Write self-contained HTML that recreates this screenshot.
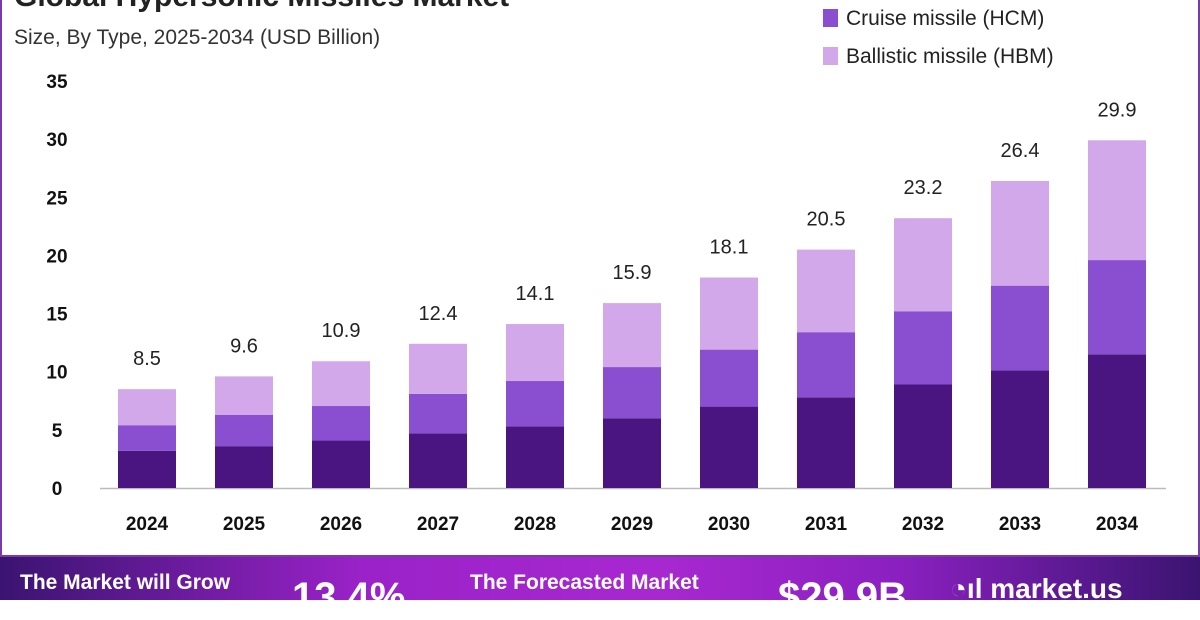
<!DOCTYPE html>
<html><head><meta charset="utf-8"><style>
body{margin:0;width:1200px;height:600px;overflow:hidden;background:#fff;font-family:"Liberation Sans",sans-serif;}
#frame{position:absolute;left:0;top:0;width:1196px;height:555px;border:2px solid #7a3aa8;border-top:none;background:#fff;}
#banner{position:absolute;left:0;top:557px;width:1200px;height:43px;background:linear-gradient(90deg,#3a1470 0%,#9a22c8 30%,#a828d0 55%,#8a20c0 75%,#3a1470 100%);color:#fff;font-weight:bold;}
</style></head><body>
<div id="frame"></div>
<svg id="chart" width="1200" height="557" style="position:absolute;left:0;top:0">
<text x="14" y="6" font-size="30" font-weight="bold" fill="#222">Global Hypersonic Missiles Market</text>
<text x="14" y="44" font-size="21" fill="#333">Size, By Type, 2025-2034 (USD Billion)</text>
<rect x="823" y="9" width="15" height="18" fill="#8a4fd0"/>
<text x="846" y="25" font-size="21" fill="#222">Cruise missile (HCM)</text>
<rect x="823" y="47" width="15" height="18" fill="#d3a8ea"/>
<text x="846" y="63" font-size="21" fill="#222">Ballistic missile (HBM)</text>
<g id="g"></g>
</svg>
<div id="banner">
<span style="position:absolute;left:20px;top:14px;font-size:21px">The Market will Grow</span>
<span style="position:absolute;left:292px;top:18px;font-size:40px">13.4%</span>
<span style="position:absolute;left:470px;top:14px;font-size:21px">The Forecasted Market</span>
<span style="position:absolute;left:778px;top:18px;font-size:40px">$29.9B</span>
<span style="position:absolute;left:950px;top:16px;font-size:28px">◔ıl market.us</span>
</div>
<script>
const years=["2024","2025","2026","2027","2028","2029","2030","2031","2032","2033","2034"];
const other=[3.2,3.6,4.1,4.7,5.3,6.0,7.0,7.8,8.9,10.1,11.5];
const hcm=[2.2,2.7,2.95,3.4,3.9,4.4,4.9,5.6,6.3,7.3,8.1];
const hbm=[3.1,3.3,3.85,4.3,4.9,5.5,6.2,7.1,8.0,9.0,10.3];
const totals=["8.5","9.6","10.9","12.4","14.1","15.9","18.1","20.5","23.2","26.4","29.9"];
const yTicks=[0,5,10,15,20,25,30,35];
const NS="http://www.w3.org/2000/svg",g=document.getElementById('g');
const y=v=>488-v*(407/35), x=i=>147+i*97, bw=58;
function mk(t,a){const e=document.createElementNS(NS,t);for(const k in a)e.setAttribute(k,a[k]);g.appendChild(e);return e;}
yTicks.forEach(t=>{const e=mk('text',{x:57,y:y(t)+7,'font-size':19,'font-weight':'bold','text-anchor':'middle',fill:'#111'});e.textContent=t;

});
const ax=mk('line',{x1:100,x2:1166,y1:488.5,y2:488.5,stroke:'#bbb','stroke-width':1.5});


years.forEach((yr,i)=>{
 let base=0;
 [[other,'#4a1580','bar-other'],[hcm,'#8a4fd0','bar-hcm'],[hbm,'#d3a8ea','bar-hbm']].forEach(([arr,c,n])=>{
  const r=mk('rect',{x:x(i)-bw/2,y:y(base+arr[i]),width:bw,height:y(base)-y(base+arr[i]),fill:c});
  
  
  base+=arr[i];});
 const tl=mk('text',{x:x(i),y:y(base)-24,'font-size':20,'text-anchor':'middle',fill:'#222'});tl.textContent=totals[i];
 
 
 const xl=mk('text',{x:x(i),y:530,'font-size':19,'font-weight':'bold','text-anchor':'middle',fill:'#111'});xl.textContent=yr;
 
 
});
</script>
</body></html>
